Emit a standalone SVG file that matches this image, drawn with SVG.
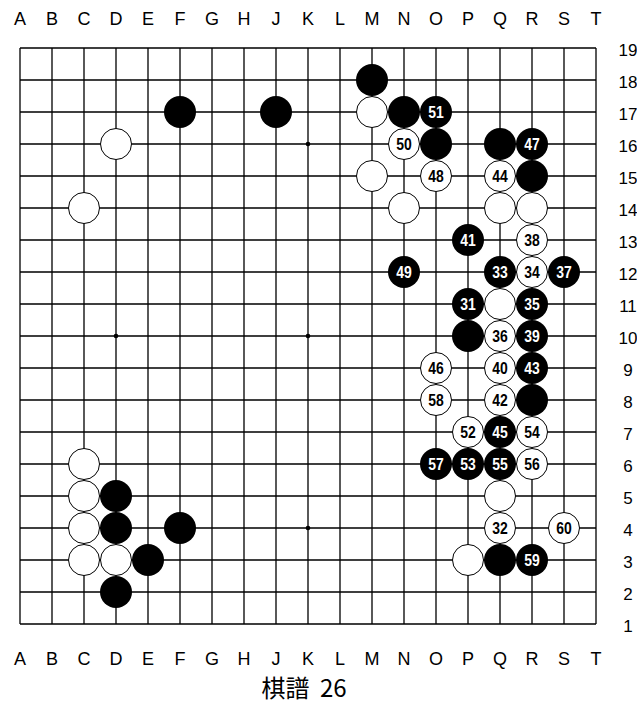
<svg xmlns="http://www.w3.org/2000/svg" width="637" height="705" viewBox="0 0 637 705">
<style>
.grid{fill:none;stroke:#000;stroke-width:1.3}
.hoshi{fill:#000}
.b{fill:#000}
.w{fill:#fff;stroke:#000;stroke-width:1}
.nb,.nw{font-family:"Liberation Sans",Arial,sans-serif;font-weight:bold;font-size:16px;text-anchor:middle}
.nb{fill:#fff}
.nw{fill:#000}
.col{font-family:"Liberation Sans",Arial,sans-serif;font-size:18px;text-anchor:middle;fill:#000}
.row{font-family:"Liberation Sans",Arial,sans-serif;font-size:17px;text-anchor:middle;fill:#000}
.cap{font-family:"Noto Sans CJK JP","Noto Sans CJK SC",sans-serif;font-size:24px;text-anchor:middle;fill:#000}
</style>
<rect width="637" height="705" fill="#fff"/>
<g id="board">
<path class="grid" d="M20 48H596M20 80H596M20 112H596M20 144H596M20 176H596M20 208H596M20 240H596M20 272H596M20 304H596M20 336H596M20 368H596M20 400H596M20 432H596M20 464H596M20 496H596M20 528H596M20 560H596M20 592H596M20 624H596M20 48V624M52 48V624M84 48V624M116 48V624M148 48V624M180 48V624M212 48V624M244 48V624M276 48V624M308 48V624M340 48V624M372 48V624M404 48V624M436 48V624M468 48V624M500 48V624M532 48V624M564 48V624M596 48V624"/>
<circle class="hoshi" cx="116" cy="336" r="2.3"/>
<circle class="hoshi" cx="308" cy="144" r="2.3"/>
<circle class="hoshi" cx="308" cy="336" r="2.3"/>
<circle class="hoshi" cx="308" cy="528" r="2.3"/>
</g>
<g id="col-labels-top">
<text class="col" x="20" y="25">A</text><text class="col" x="52" y="25">B</text><text class="col" x="84" y="25">C</text><text class="col" x="116" y="25">D</text><text class="col" x="148" y="25">E</text><text class="col" x="180" y="25">F</text><text class="col" x="212" y="25">G</text><text class="col" x="244" y="25">H</text><text class="col" x="276" y="25">J</text><text class="col" x="308" y="25">K</text><text class="col" x="340" y="25">L</text><text class="col" x="372" y="25">M</text><text class="col" x="404" y="25">N</text><text class="col" x="436" y="25">O</text><text class="col" x="468" y="25">P</text><text class="col" x="500" y="25">Q</text><text class="col" x="532" y="25">R</text><text class="col" x="564" y="25">S</text><text class="col" x="596" y="25">T</text>
</g>
<g id="col-labels-bottom">
<text class="col" x="20" y="665">A</text><text class="col" x="52" y="665">B</text><text class="col" x="84" y="665">C</text><text class="col" x="116" y="665">D</text><text class="col" x="148" y="665">E</text><text class="col" x="180" y="665">F</text><text class="col" x="212" y="665">G</text><text class="col" x="244" y="665">H</text><text class="col" x="276" y="665">J</text><text class="col" x="308" y="665">K</text><text class="col" x="340" y="665">L</text><text class="col" x="372" y="665">M</text><text class="col" x="404" y="665">N</text><text class="col" x="436" y="665">O</text><text class="col" x="468" y="665">P</text><text class="col" x="500" y="665">Q</text><text class="col" x="532" y="665">R</text><text class="col" x="564" y="665">S</text><text class="col" x="596" y="665">T</text>
</g>
<g id="row-labels">
<text class="row" x="628" y="55.5">19</text><text class="row" x="628" y="87.5">18</text><text class="row" x="628" y="119.5">17</text><text class="row" x="628" y="151.5">16</text><text class="row" x="628" y="183.5">15</text><text class="row" x="628" y="215.5">14</text><text class="row" x="628" y="247.5">13</text><text class="row" x="628" y="279.5">12</text><text class="row" x="628" y="311.5">11</text><text class="row" x="628" y="343.5">10</text><text class="row" x="628" y="375.5">9</text><text class="row" x="628" y="407.5">8</text><text class="row" x="628" y="439.5">7</text><text class="row" x="628" y="471.5">6</text><text class="row" x="628" y="503.5">5</text><text class="row" x="628" y="535.5">4</text><text class="row" x="628" y="567.5">3</text><text class="row" x="628" y="599.5">2</text><text class="row" x="628" y="631.5">1</text>
</g>
<g id="stones">
<g id="M18"><circle class="b" cx="372" cy="80" r="16"/></g>
<g id="F17"><circle class="b" cx="180" cy="112" r="16"/></g>
<g id="J17"><circle class="b" cx="276" cy="112" r="16"/></g>
<g id="M17"><circle class="w" cx="372" cy="112" r="15.5"/></g>
<g id="N17"><circle class="b" cx="404" cy="112" r="16"/></g>
<g id="O17"><circle class="b" cx="436" cy="112" r="16"/><text class="nb" x="436" y="118" textLength="15.5" lengthAdjust="spacingAndGlyphs">51</text></g>
<g id="D16"><circle class="w" cx="116" cy="144" r="15.5"/></g>
<g id="N16"><circle class="w" cx="404" cy="144" r="15.5"/><text class="nw" x="404" y="150" textLength="15.5" lengthAdjust="spacingAndGlyphs">50</text></g>
<g id="O16"><circle class="b" cx="436" cy="144" r="16"/></g>
<g id="Q16"><circle class="b" cx="500" cy="144" r="16"/></g>
<g id="R16"><circle class="b" cx="532" cy="144" r="16"/><text class="nb" x="532" y="150" textLength="15.5" lengthAdjust="spacingAndGlyphs">47</text></g>
<g id="M15"><circle class="w" cx="372" cy="176" r="15.5"/></g>
<g id="O15"><circle class="w" cx="436" cy="176" r="15.5"/><text class="nw" x="436" y="182" textLength="15.5" lengthAdjust="spacingAndGlyphs">48</text></g>
<g id="Q15"><circle class="w" cx="500" cy="176" r="15.5"/><text class="nw" x="500" y="182" textLength="15.5" lengthAdjust="spacingAndGlyphs">44</text></g>
<g id="R15"><circle class="b" cx="532" cy="176" r="16"/></g>
<g id="C14"><circle class="w" cx="84" cy="208" r="15.5"/></g>
<g id="N14"><circle class="w" cx="404" cy="208" r="15.5"/></g>
<g id="Q14"><circle class="w" cx="500" cy="208" r="15.5"/></g>
<g id="R14"><circle class="w" cx="532" cy="208" r="15.5"/></g>
<g id="P13"><circle class="b" cx="468" cy="240" r="16"/><text class="nb" x="468" y="246" textLength="15.5" lengthAdjust="spacingAndGlyphs">41</text></g>
<g id="R13"><circle class="w" cx="532" cy="240" r="15.5"/><text class="nw" x="532" y="246" textLength="15.5" lengthAdjust="spacingAndGlyphs">38</text></g>
<g id="N12"><circle class="b" cx="404" cy="272" r="16"/><text class="nb" x="404" y="278" textLength="15.5" lengthAdjust="spacingAndGlyphs">49</text></g>
<g id="Q12"><circle class="b" cx="500" cy="272" r="16"/><text class="nb" x="500" y="278" textLength="15.5" lengthAdjust="spacingAndGlyphs">33</text></g>
<g id="R12"><circle class="w" cx="532" cy="272" r="15.5"/><text class="nw" x="532" y="278" textLength="15.5" lengthAdjust="spacingAndGlyphs">34</text></g>
<g id="S12"><circle class="b" cx="564" cy="272" r="16"/><text class="nb" x="564" y="278" textLength="15.5" lengthAdjust="spacingAndGlyphs">37</text></g>
<g id="P11"><circle class="b" cx="468" cy="304" r="16"/><text class="nb" x="468" y="310" textLength="15.5" lengthAdjust="spacingAndGlyphs">31</text></g>
<g id="Q11"><circle class="w" cx="500" cy="304" r="15.5"/></g>
<g id="R11"><circle class="b" cx="532" cy="304" r="16"/><text class="nb" x="532" y="310" textLength="15.5" lengthAdjust="spacingAndGlyphs">35</text></g>
<g id="P10"><circle class="b" cx="468" cy="336" r="16"/></g>
<g id="Q10"><circle class="w" cx="500" cy="336" r="15.5"/><text class="nw" x="500" y="342" textLength="15.5" lengthAdjust="spacingAndGlyphs">36</text></g>
<g id="R10"><circle class="b" cx="532" cy="336" r="16"/><text class="nb" x="532" y="342" textLength="15.5" lengthAdjust="spacingAndGlyphs">39</text></g>
<g id="O9"><circle class="w" cx="436" cy="368" r="15.5"/><text class="nw" x="436" y="374" textLength="15.5" lengthAdjust="spacingAndGlyphs">46</text></g>
<g id="Q9"><circle class="w" cx="500" cy="368" r="15.5"/><text class="nw" x="500" y="374" textLength="15.5" lengthAdjust="spacingAndGlyphs">40</text></g>
<g id="R9"><circle class="b" cx="532" cy="368" r="16"/><text class="nb" x="532" y="374" textLength="15.5" lengthAdjust="spacingAndGlyphs">43</text></g>
<g id="O8"><circle class="w" cx="436" cy="400" r="15.5"/><text class="nw" x="436" y="406" textLength="15.5" lengthAdjust="spacingAndGlyphs">58</text></g>
<g id="Q8"><circle class="w" cx="500" cy="400" r="15.5"/><text class="nw" x="500" y="406" textLength="15.5" lengthAdjust="spacingAndGlyphs">42</text></g>
<g id="R8"><circle class="b" cx="532" cy="400" r="16"/></g>
<g id="P7"><circle class="w" cx="468" cy="432" r="15.5"/><text class="nw" x="468" y="438" textLength="15.5" lengthAdjust="spacingAndGlyphs">52</text></g>
<g id="Q7"><circle class="b" cx="500" cy="432" r="16"/><text class="nb" x="500" y="438" textLength="15.5" lengthAdjust="spacingAndGlyphs">45</text></g>
<g id="R7"><circle class="w" cx="532" cy="432" r="15.5"/><text class="nw" x="532" y="438" textLength="15.5" lengthAdjust="spacingAndGlyphs">54</text></g>
<g id="C6"><circle class="w" cx="84" cy="464" r="15.5"/></g>
<g id="O6"><circle class="b" cx="436" cy="464" r="16"/><text class="nb" x="436" y="470" textLength="15.5" lengthAdjust="spacingAndGlyphs">57</text></g>
<g id="P6"><circle class="b" cx="468" cy="464" r="16"/><text class="nb" x="468" y="470" textLength="15.5" lengthAdjust="spacingAndGlyphs">53</text></g>
<g id="Q6"><circle class="b" cx="500" cy="464" r="16"/><text class="nb" x="500" y="470" textLength="15.5" lengthAdjust="spacingAndGlyphs">55</text></g>
<g id="R6"><circle class="w" cx="532" cy="464" r="15.5"/><text class="nw" x="532" y="470" textLength="15.5" lengthAdjust="spacingAndGlyphs">56</text></g>
<g id="C5"><circle class="w" cx="84" cy="496" r="15.5"/></g>
<g id="D5"><circle class="b" cx="116" cy="496" r="16"/></g>
<g id="Q5"><circle class="w" cx="500" cy="496" r="15.5"/></g>
<g id="C4"><circle class="w" cx="84" cy="528" r="15.5"/></g>
<g id="D4"><circle class="b" cx="116" cy="528" r="16"/></g>
<g id="F4"><circle class="b" cx="180" cy="528" r="16"/></g>
<g id="Q4"><circle class="w" cx="500" cy="528" r="15.5"/><text class="nw" x="500" y="534" textLength="15.5" lengthAdjust="spacingAndGlyphs">32</text></g>
<g id="S4"><circle class="w" cx="564" cy="528" r="15.5"/><text class="nw" x="564" y="534" textLength="15.5" lengthAdjust="spacingAndGlyphs">60</text></g>
<g id="C3"><circle class="w" cx="84" cy="560" r="15.5"/></g>
<g id="D3"><circle class="w" cx="116" cy="560" r="15.5"/></g>
<g id="E3"><circle class="b" cx="148" cy="560" r="16"/></g>
<g id="P3"><circle class="w" cx="468" cy="560" r="15.5"/></g>
<g id="Q3"><circle class="b" cx="500" cy="560" r="16"/></g>
<g id="R3"><circle class="b" cx="532" cy="560" r="16"/><text class="nb" x="532" y="566" textLength="15.5" lengthAdjust="spacingAndGlyphs">59</text></g>
<g id="D2"><circle class="b" cx="116" cy="592" r="16"/></g>
</g>
<g id="caption"><text class="cap" x="304" y="697">棋譜 <tspan dx="5">26</tspan></text></g>
</svg>
